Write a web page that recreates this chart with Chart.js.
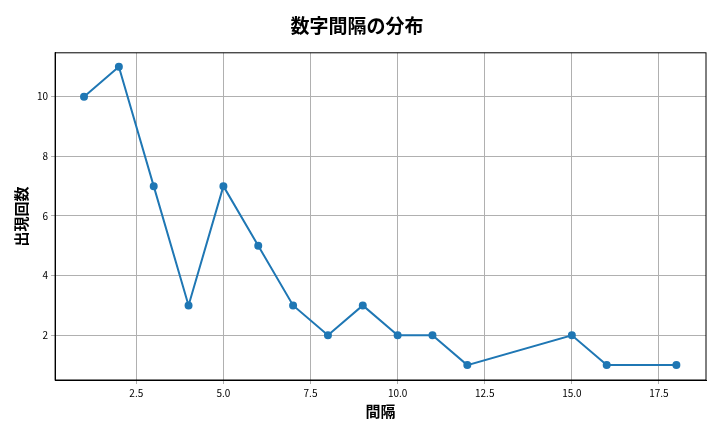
<!DOCTYPE html>
<html>
<head>
<meta charset="utf-8">
<script src="https://cdn.jsdelivr.net/npm/chart.js@4"></script>
<style>
body { margin: 0; background: #fff; }
#wrap { width: 720px; height: 432px; }
</style>
</head>
<body>
<div id="wrap"><canvas id="chart"></canvas></div>
<script>
const gaps = [1, 2, 3, 4, 5, 6, 7, 8, 9, 10, 11, 12, 15, 16, 18];
const counts = [10, 11, 7, 3, 7, 5, 3, 2, 3, 2, 2, 1, 2, 1, 1];
const xTicks = [2.5, 5.0, 7.5, 10.0, 12.5, 15.0, 17.5];
const yTicks = [2, 4, 6, 8, 10];

const font = "'Noto Sans CJK JP', 'DejaVu Sans', sans-serif";
const points = gaps.map((g, i) => ({ x: g, y: counts[i] }));

// matplotlib-style frame around the plot area
const frame = {
    id: 'frame',
    afterDatasetsDraw(chart) {
        const a = chart.chartArea, ctx = chart.ctx;
        ctx.save();
        ctx.strokeStyle = '#000';
        ctx.lineWidth = 1;
        ctx.strokeRect(a.left, a.top, a.right - a.left, a.bottom - a.top);
        ctx.restore();
    }
};

new Chart(document.getElementById('chart'), {
    type: 'line',
    data: {
        datasets: [{
            data: points,
            borderColor: '#1f77b4',
            backgroundColor: '#1f77b4',
            borderWidth: 2,
            pointRadius: 3,
            tension: 0
        }]
    },
    options: {
        responsive: true,
        maintainAspectRatio: false,
        animation: false,
        layout: { padding: { left: 8, right: 14, top: 8, bottom: 12 } },
        plugins: {
            legend: { display: false },
            title: {
                display: true,
                text: '数字間隔の分布',
                font: { family: font, size: 19, weight: 'bold' },
                color: '#000',
                padding: { top: 6, bottom: 16 }
            }
        },
        scales: {
            x: {
                type: 'linear',
                min: 0.17,
                max: 18.85,
                afterBuildTicks: axis => { axis.ticks = xTicks.map(v => ({ value: v })); },
                ticks: { font: { family: font, size: 10 }, color: '#000', callback: v => v.toFixed(1), maxRotation: 0 },
                grid: { color: '#b0b0b0', tickLength: 4 },
                border: { color: '#000' },
                title: { display: true, text: '間隔', font: { family: font, size: 15, weight: 'bold' }, color: '#000', padding: 0 }
            },
            y: {
                min: 0.5,
                max: 11.47,
                afterBuildTicks: axis => { axis.ticks = yTicks.map(v => ({ value: v })); },
                ticks: { font: { family: font, size: 10 }, color: '#000' },
                grid: { color: '#b0b0b0', tickLength: 4 },
                border: { color: '#000' },
                title: { display: true, text: '出現回数', font: { family: font, size: 15, weight: 'bold' }, color: '#000', padding: 4 }
            }
        }
    },
    plugins: [frame]
});
</script>
</body>
</html>
